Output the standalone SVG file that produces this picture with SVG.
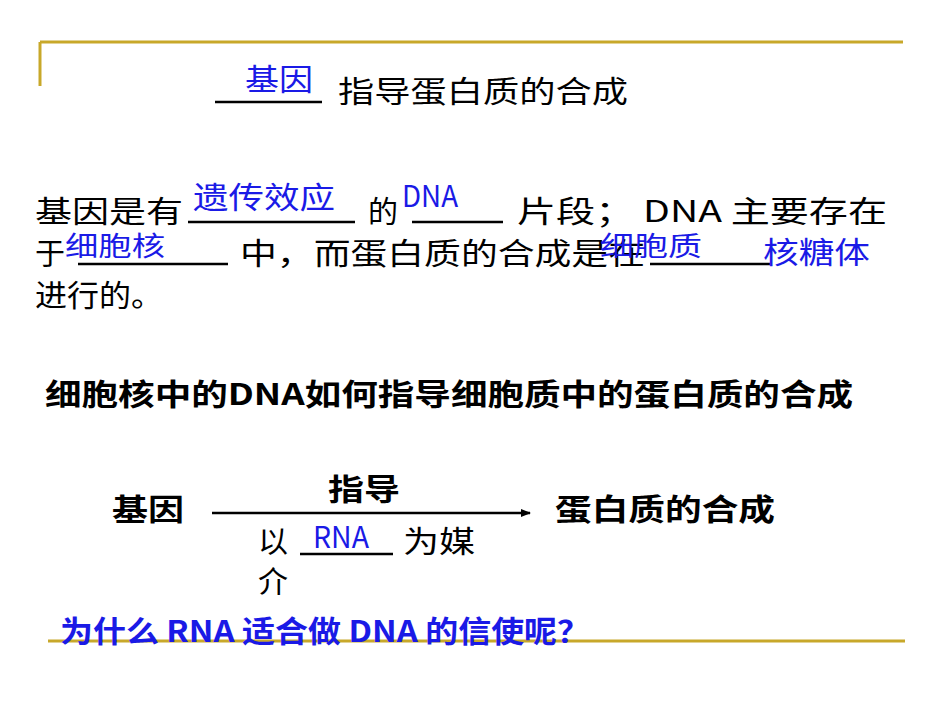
<svg xmlns="http://www.w3.org/2000/svg" width="950" height="713" viewBox="0 0 950 713">
<style>
text{font-family:"Noto Sans CJK SC","Noto Sans",sans-serif;font-size:30px;fill:#000}
.b{fill:#1a1ae6}
.s{font-size:27px}
.u{stroke:#000;stroke-width:2.5}
.g{stroke:#c8a82a;stroke-width:3}
</style>
<defs><marker id="ah" markerWidth="10" markerHeight="8" refX="9" refY="4" orient="auto" markerUnits="userSpaceOnUse"><path d="M0,0L10,4L0,8z" fill="#000"/></marker></defs>
<g id="frame"><line class="g" x1="40" y1="42" x2="903" y2="42"/><line class="g" x1="40" y1="42" x2="40" y2="86"/><line class="g" x1="48" y1="641" x2="905" y2="641"/></g>
<g id="title">
<line class="u" x1="215" y1="102" x2="322" y2="102"/>
<text class="b" x="245" y="90" textLength="68" lengthAdjust="spacingAndGlyphs">基因</text>
<text x="338" y="102" textLength="290" lengthAdjust="spacingAndGlyphs">指导蛋白质的合成</text>
</g>
<g id="para">
<text x="35" y="222" textLength="148" lengthAdjust="spacingAndGlyphs">基因是有</text>
<line class="u" x1="188" y1="222" x2="355" y2="222"/>
<text class="b" x="193" y="208" textLength="142" lengthAdjust="spacingAndGlyphs">遗传效应</text>
<text x="368" y="222">的</text>
<line class="u" x1="412" y1="222" x2="503" y2="222"/>
<text class="b" x="402" y="207" textLength="56" lengthAdjust="spacingAndGlyphs">DNA</text>
<text x="517" y="222" textLength="370" lengthAdjust="spacingAndGlyphs">片段； DNA 主要存在</text>
<text x="35" y="264">于</text>
<line class="u" x1="78" y1="264" x2="228" y2="264"/>
<text class="b s" x="65" y="256" textLength="100" lengthAdjust="spacingAndGlyphs">细胞核</text>
<text x="240" y="264" textLength="405" lengthAdjust="spacingAndGlyphs">中，而蛋白质的合成是在</text>
<line class="u" x1="650" y1="264" x2="770" y2="264"/>
<text class="b s" x="600" y="256" textLength="102" lengthAdjust="spacingAndGlyphs">细胞质</text>
<text class="b" x="763" y="263" textLength="107" lengthAdjust="spacingAndGlyphs">核糖体</text>
<text x="35" y="306" textLength="128" lengthAdjust="spacingAndGlyphs">进行的。</text>
</g>
<g id="question"><text x="45" y="405" font-weight="bold" textLength="808" lengthAdjust="spacingAndGlyphs">细胞核中的DNA如何指导细胞质中的蛋白质的合成</text></g>
<g id="connectors"><line x1="212" y1="513" x2="530" y2="513" stroke="#000" stroke-width="2.5" marker-end="url(#ah)"/></g>
<g id="gene"><text x="112" y="520" font-weight="bold" textLength="72" lengthAdjust="spacingAndGlyphs">基因</text></g>
<g id="protein"><text x="555" y="520" font-weight="bold" textLength="220" lengthAdjust="spacingAndGlyphs">蛋白质的合成</text></g>
<g id="labels">
<text x="328" y="500" font-weight="bold" textLength="72" lengthAdjust="spacingAndGlyphs">指导</text>
<text x="258" y="552">以</text>
<line class="u" x1="300" y1="554" x2="393" y2="554"/>
<text class="b" x="313" y="548" textLength="56" lengthAdjust="spacingAndGlyphs">RNA</text>
<text x="403" y="552" textLength="72" lengthAdjust="spacingAndGlyphs">为媒</text>
<text x="258" y="592">介</text>
</g>
<g id="why"><text class="b" x="60" y="642" font-weight="bold" textLength="530" lengthAdjust="spacingAndGlyphs">为什么 RNA 适合做 DNA 的信使呢？</text></g>
</svg>
